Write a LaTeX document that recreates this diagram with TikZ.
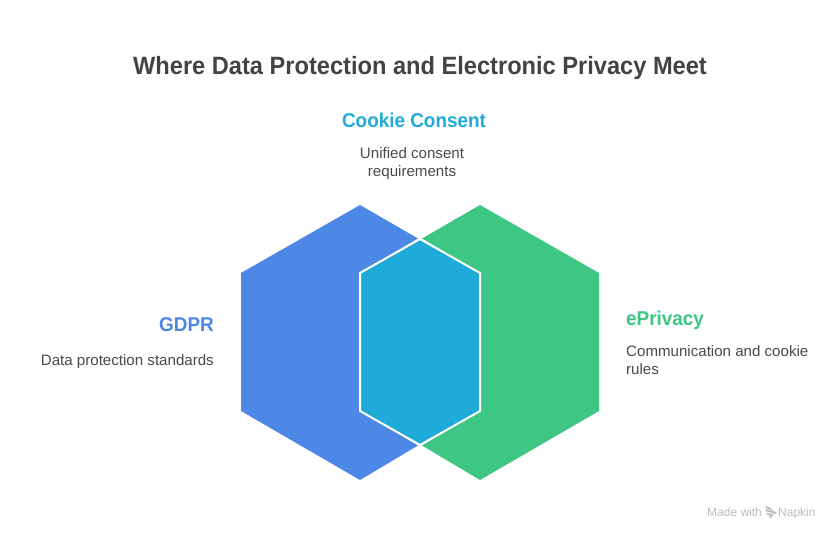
\documentclass[tikz,border=0pt]{standalone}
\usepackage{fontspec}
\setmainfont{Liberation Sans}
\definecolor{titlec}{HTML}{434343}
\definecolor{bodyc}{HTML}{4A4A4A}
\definecolor{gdprc}{HTML}{4E88E7}
\definecolor{epc}{HTML}{3EC684}
\definecolor{ccc}{HTML}{1EABDA}
\definecolor{markc}{HTML}{BDBDBD}
\newfontfamily\condbold[FakeStretch=0.945]{Liberation Sans Bold}
\tikzset{
  heading/.style={font=\fontsize{20}{24}\selectfont\condbold, inner sep=0pt},
  body/.style={font=\fontsize{15.1}{18}\selectfont, text=bodyc, inner sep=0pt},
  credit/.style={font=\fontsize{12}{14}\selectfont, text=markc, inner sep=0pt},
}
\begin{document}
\begin{tikzpicture}[x=1pt,y=-1pt]
\useasboundingbox[fill=white] (0,0) rectangle (840,540);
\fill[gdprc] (360,205) -- (418,238.5) -- (360,273) -- (360,411) -- (418,445.5) -- (360,480) -- (241,411) -- (241,273) -- cycle;
\fill[epc] (480,205) -- (599,273) -- (599,411) -- (480,480) -- (422,445.5) -- (480,411) -- (480,273) -- (422,238.5) -- cycle;
\fill[ccc, draw=white, line width=2pt, line join=miter] (420,239) -- (480,273) -- (480,411) -- (420,445) -- (360,411) -- (360,273) -- cycle;
\node[font=\fontsize{25}{30}\selectfont\condbold, text=titlec, inner sep=0pt] (title) at (420,68) {Where Data Protection and Electronic Privacy Meet};
\node[heading, text=ccc] (cch) at (414,120) {Cookie Consent};
\node[body, align=center] (ccb) at (412,164) {Unified consent\\requirements};
\node[heading, text=gdprc, anchor=east] (gh) at (214,325) {GDPR};
\node[body, anchor=east] (gb) at (214,362) {Data protection standards};
\node[heading, text=epc, anchor=west] (eh) at (626,320) {ePrivacy};
\node[body, anchor=west, align=left] (eb) at (626,360.5) {Communication and cookie\\rules};
\node[credit, anchor=base west] (m1) at (707,516) {Made with};
\node[credit, anchor=base west] (m2) at (778,516) {Napkin};
\fill[markc] (766,506) -- (770,507.5) -- (773,510.5) -- (766,508) -- cycle
  (765.5,509) -- (776.5,512) -- (775.5,514) -- (765.5,511) -- cycle
  (766.5,512.5) -- (774,514.8) -- (772,516.3) -- (766.5,514.5) -- cycle
  (769,515.8) -- (772,516.8) -- (770,518.5) -- cycle;
\end{tikzpicture}
\end{document}
